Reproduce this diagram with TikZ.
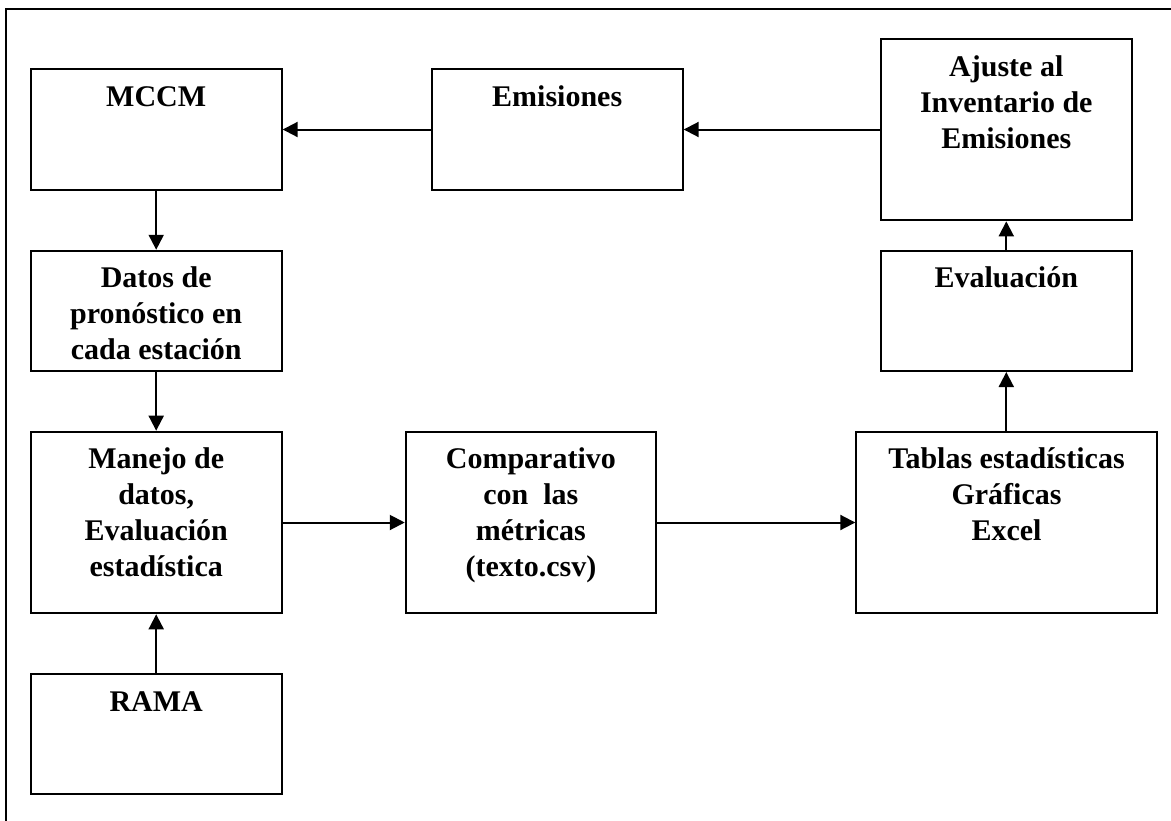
\documentclass[tikz,border=0pt]{standalone}
\usepackage{fontspec}
\setmainfont{Liberation Serif}
\usetikzlibrary{arrows.meta}
\tikzset{
  box/.style={draw=black, line width=2pt, inner sep=0pt, minimum width=251pt},
  boxtext/.style={anchor=north, inner sep=0pt, align=center, yshift=-12.8pt,
    font=\fontsize{30}{36}\selectfont\bfseries},
  flow/.style={line width=2pt, -{Triangle[length=15pt,width=15pt]}}
}
\begin{document}
\begin{tikzpicture}[x=1pt,y=-1pt]
\useasboundingbox (0,0) rectangle (1171,820);
\clip (0,0) rectangle (1171,820);
\fill[white] (0,0) rectangle (1171,820);
% outer frame (cut by the picture's right and bottom edges)
\draw[line width=2pt] (5.7,9) rectangle (1190,840);

% boxes
\node[box, minimum height=121pt]   (mccm)   at (156.2,129.5) {};
\node[box, minimum height=121pt]   (emis)   at (557.2,129.5) {};
\node[box, minimum height=181.3pt] (ajuste) at (1006.3,129.7) {};
\node[box, minimum height=120.3pt] (eval)   at (1006.3,310.9) {};
\node[box, minimum height=120.3pt] (datos)  at (156.2,310.9) {};
\node[box, minimum height=181.6pt] (manejo) at (156.2,522.5) {};
\node[box, minimum height=181.6pt, minimum width=250.3pt] (comp) at (530.9,522.5) {};
\node[box, minimum height=181.3pt, minimum width=300.4pt] (tablas) at (1006.5,522.4) {};
\node[box, minimum height=120.3pt] (rama)   at (156.2,734.2) {};

% texts
\node[boxtext] (tmccm)   at (mccm.north)   {\strut MCCM};
\node[boxtext] (temis)   at (emis.north)   {\strut Emisiones};
\node[boxtext] (tajuste) at (ajuste.north) {\strut Ajuste al\\Inventario de\\Emisiones};
\node[boxtext] (teval)   at (eval.north)   {\strut Evaluación};
\node[boxtext] (tdatos)  at (datos.north)  {\strut Datos de\\pronóstico en\\cada estación};
\node[boxtext] (tmanejo) at (manejo.north) {\strut Manejo de\\datos,\\Evaluación\\estadística};
\node[boxtext] (tcomp)   at (comp.north)   {\strut Comparativo\\con\ \ las\\métricas\\(texto.csv)};
\node[boxtext] (ttablas) at (tablas.north) {\strut Tablas estadísticas\\Gráficas\\Excel};
\node[boxtext] (trama)   at (rama.north)   {\strut RAMA};

% connectors
\draw[flow] (emis.west) -- (mccm.east);
\draw[flow] (ajuste.west |- emis.east) -- (emis.east);
\draw[flow] (mccm.south) -- (datos.north);
\draw[flow] (datos.south) -- (manejo.north);
\draw[flow] (rama.north) -- (manejo.south);
\draw[flow] (manejo.east) -- (comp.west);
\draw[flow] (comp.east) -- (tablas.west |- comp.east);
\draw[flow] (eval.south |- tablas.north) -- (eval.south);
\draw[flow] (eval.north) -- (ajuste.south);
\end{tikzpicture}
\end{document}
